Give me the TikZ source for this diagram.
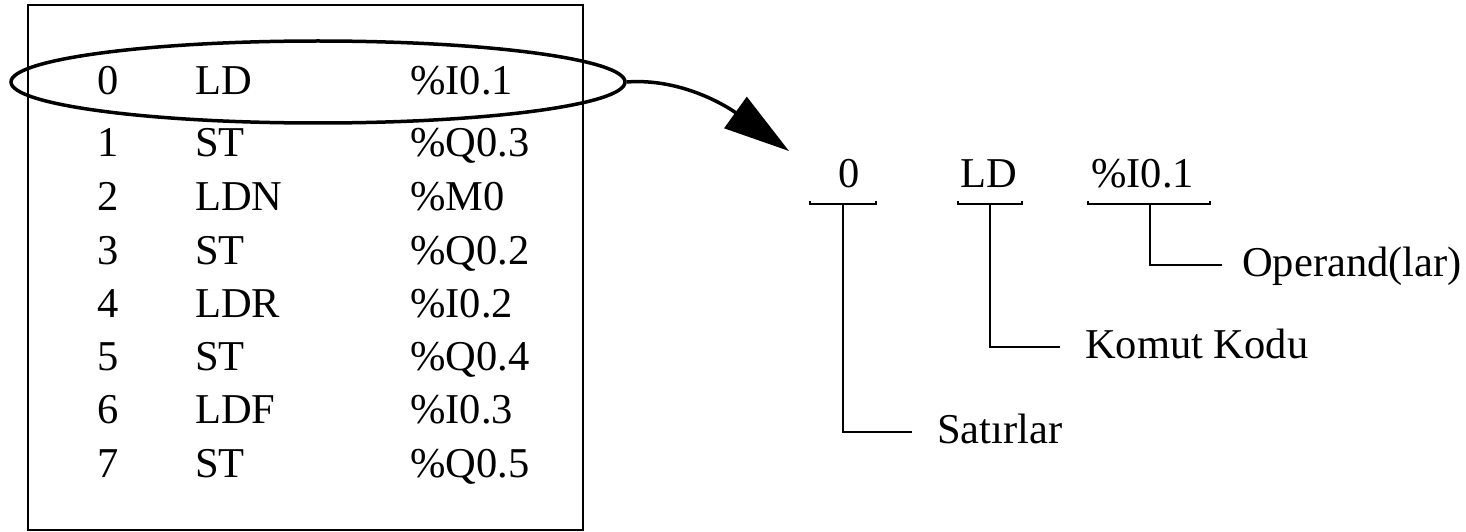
\documentclass[tikz,border=0pt]{standalone}
\usepackage{fontspec}
\setmainfont{Liberation Serif}
\usetikzlibrary{shapes.geometric,arrows.meta}
\begin{document}
\begin{tikzpicture}[x=1pt,y=-1pt,
  txt/.style={inner sep=0pt,font=\fontsize{42.5}{50}\selectfont},
  brk/.style={line width=2.2pt,line cap=butt},
  ]
\useasboundingbox (0,0) rectangle (1466,532);
% listing box
\draw[line width=2pt] (28,5) rectangle (583,530);
\node[draw,ellipse,line width=3.5pt,minimum width=614pt,minimum height=82pt,inner sep=0pt] (ell) at (318,82) {};
% rows
\foreach \i/\y/\op/\arg in {0/95/LD/\%I0.1,1/157/ST/\%Q0.3,2/210/LDN/\%M0,3/264/ST/\%Q0.2,4/317/LDR/\%I0.2,5/370/ST/\%Q0.4,6/423/LDF/\%I0.3,7/477/ST/\%Q0.5}{
  \node[txt,anchor=base] (num\i) at (108,\y) {\i};
  \node[txt,anchor=base west] (op\i) at (195,\y) {\op};
  \node[txt,anchor=base west] (arg\i) at (410,\y) {\arg};
}
% arrow
\coordinate (tip) at (789,151);
\draw[line width=3.5pt,-{Triangle[length=66pt,width=38pt]}] (ell.east) .. controls (680,78) and (725,105) .. (tip);
% right side
\node[txt,anchor=base] (r0) at (849,187) {0};
\node[txt,anchor=base west] (rld) at (960,187) {LD};
\node[txt,anchor=base west] (rop) at (1091,187) {\%I0.1};
\node[txt,anchor=base west] (sat) at (937,443) {Satırlar};
\node[txt,anchor=base west] (kom) at (1085,358) {Komut Kodu};
\node[txt,anchor=base west] (ope) at (1242,276) {Operand(lar)};
% brackets
\coordinate (a1) at (810,204); \coordinate (a2) at (876,204);
\coordinate (a3) at (843,204); \coordinate (a4) at (843,432); \coordinate (a5) at (912,432);
\coordinate (b1) at (958,204); \coordinate (b2) at (1022,204);
\coordinate (b3) at (990,204); \coordinate (b4) at (990,347); \coordinate (b5) at (1060,347);
\coordinate (c1) at (1088,204); \coordinate (c2) at (1210,204);
\coordinate (c3) at (1150,204); \coordinate (c4) at (1150,265); \coordinate (c5) at (1222,265);
\draw[brk] ([yshift=3pt]a1) -- (a1) -- (a2) -- ([yshift=3pt]a2);
\draw[brk] (a3) -- (a4) -- (a5);
\draw[brk] ([yshift=3pt]b1) -- (b1) -- (b2) -- ([yshift=3pt]b2);
\draw[brk] (b3) -- (b4) -- (b5);
\draw[brk] ([yshift=3pt]c1) -- (c1) -- (c2) -- ([yshift=3pt]c2);
\draw[brk] (c3) -- (c4) -- (c5);
\end{tikzpicture}
\end{document}
